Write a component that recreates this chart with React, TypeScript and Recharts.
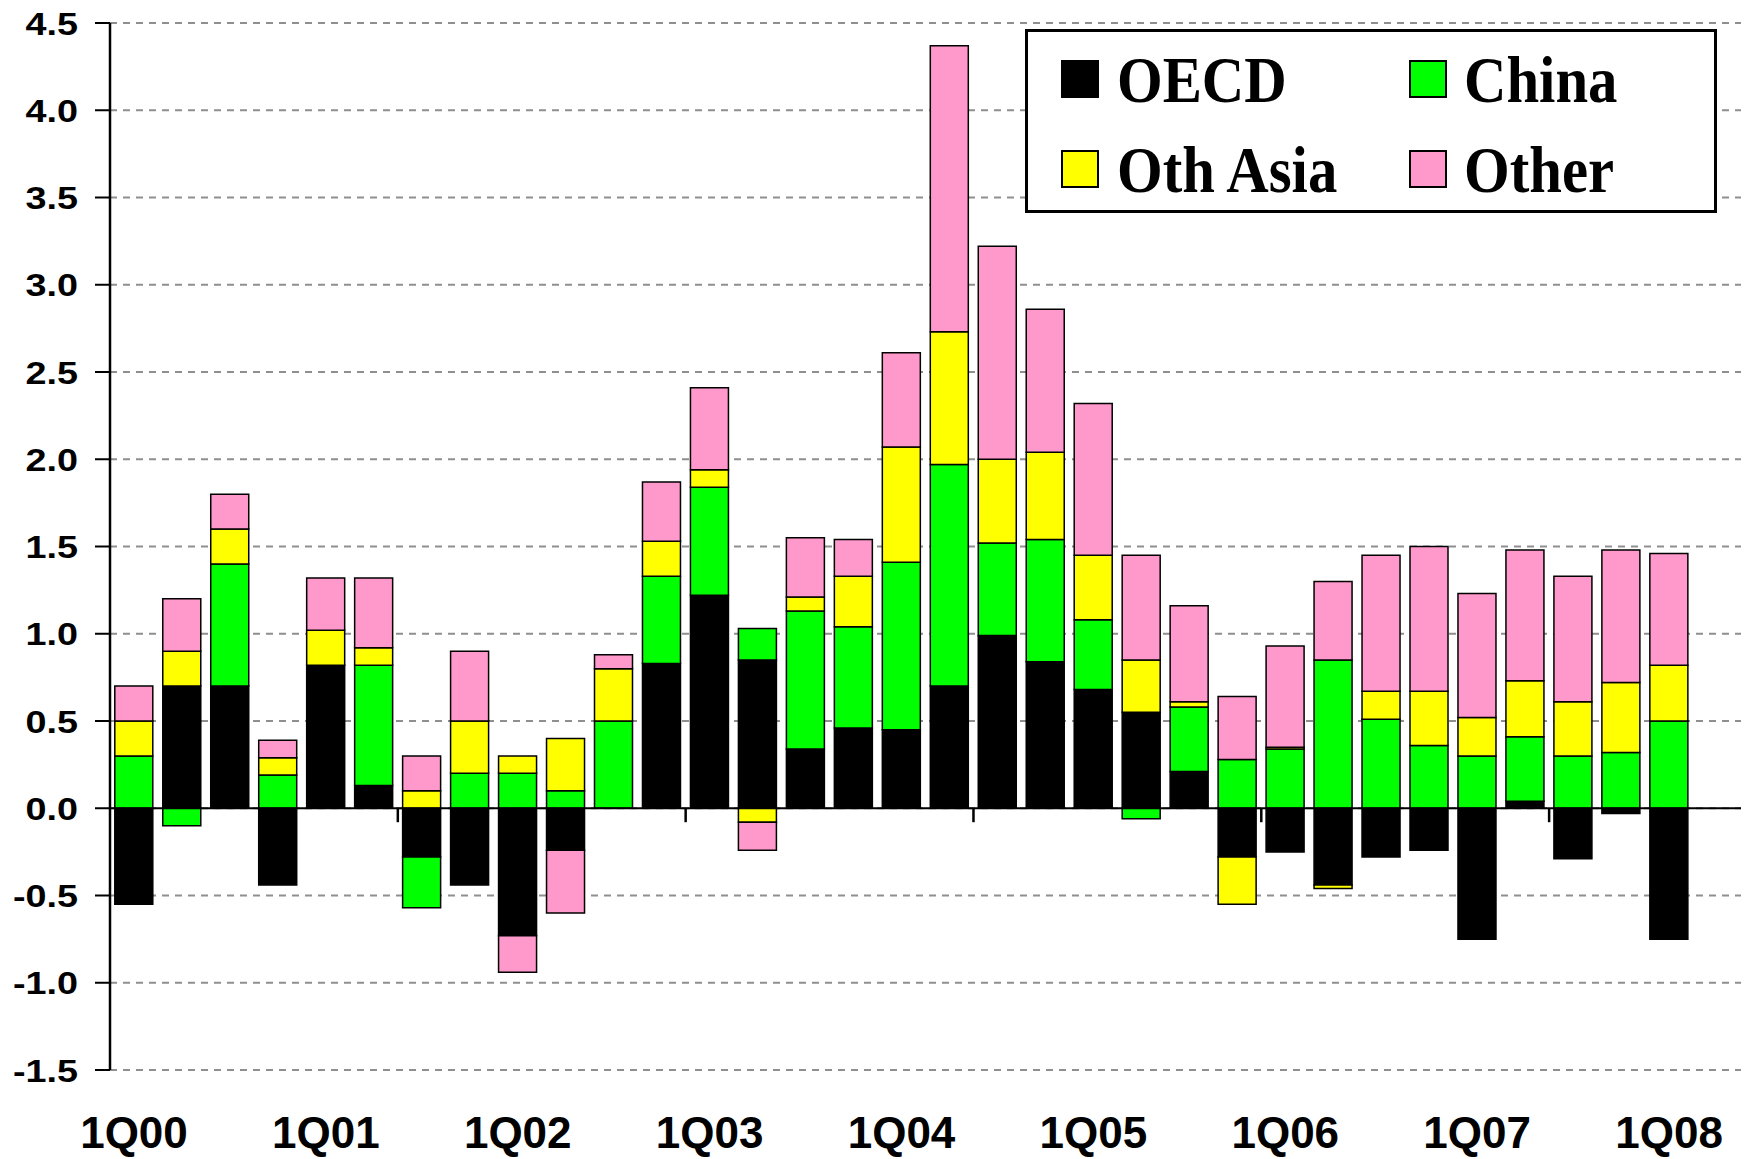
import React from 'react';
import { BarChart, Bar, XAxis, YAxis, CartesianGrid, ReferenceLine, Legend } from 'recharts';

// quarterly change, by region (last slot left empty like the original)
const quarters = [
  '1Q00', '2Q00', '3Q00', '4Q00', '1Q01', '2Q01', '3Q01', '4Q01',
  '1Q02', '2Q02', '3Q02', '4Q02', '1Q03', '2Q03', '3Q03', '4Q03',
  '1Q04', '2Q04', '3Q04', '4Q04', '1Q05', '2Q05', '3Q05', '4Q05',
  '1Q06', '2Q06', '3Q06', '4Q06', '1Q07', '2Q07', '3Q07', '4Q07',
  '1Q08', '2Q08',
];

const oecd = [
  -0.55, 0.7, 0.7, -0.44, 0.82, 0.13, -0.28, -0.44,
  -0.73, -0.24, 0, 0.83, 1.22, 0.85, 0.34, 0.46,
  0.45, 0.7, 0.99, 0.84, 0.68, 0.55, 0.21, -0.28,
  -0.25, -0.44, -0.28, -0.24, -0.75, 0.04, -0.29, -0.03,
  -0.75, null,
];

const china = [
  0.3, -0.1, 0.7, 0.19, 0, 0.69, -0.29, 0.2,
  0.2, 0.1, 0.5, 0.5, 0.62, 0.18, 0.79, 0.58,
  0.96, 1.27, 0.53, 0.7, 0.4, -0.06, 0.37, 0.28,
  0.34, 0.85, 0.51, 0.36, 0.3, 0.37, 0.3, 0.32,
  0.5, null,
];

const othAsia = [
  0.2, 0.2, 0.2, 0.1, 0.2, 0.1, 0.1, 0.3,
  0.1, 0.3, 0.3, 0.2, 0.1, -0.08, 0.08, 0.29,
  0.66, 0.76, 0.48, 0.5, 0.37, 0.3, 0.03, -0.27,
  0.01, -0.02, 0.16, 0.31, 0.22, 0.32, 0.31, 0.4,
  0.32, null,
];

const other = [
  0.2, 0.3, 0.2, 0.1, 0.3, 0.4, 0.2, 0.4,
  -0.21, -0.36, 0.08, 0.34, 0.47, -0.16, 0.34, 0.21,
  0.54, 1.64, 1.22, 0.82, 0.87, 0.6, 0.55, 0.36,
  0.58, 0.45, 0.78, 0.83, 0.71, 0.75, 0.72, 0.76,
  0.64, null,
];

const yTicks = [-1.5, -1, -0.5, 0, 0.5, 1, 1.5, 2, 2.5, 3, 3.5, 4, 4.5];
// small marks hanging under the zero line
const markQuarters = ['3Q01', '1Q03', '3Q04', '1Q06', '3Q07'];

const series = [
  { key: 'oecd', name: 'OECD', color: '#000000' },
  { key: 'china', name: 'China', color: '#00FF00' },
  { key: 'othAsia', name: 'Oth Asia', color: '#FFFF00' },
  { key: 'other', name: 'Other', color: '#FF99CC' },
];

const data = quarters.map((q, i) => ({
  quarter: q,
  oecd: oecd[i],
  china: china[i],
  othAsia: othAsia[i],
  other: other[i],
}));

const sans = "'Liberation Sans', Arial, sans-serif";
const serif = "'Liberation Serif', 'Times New Roman', serif";

function YTick({ x, y, payload }: any) {
  return (
    <g transform={`translate(${x},${y + 11.5})`}>
      <text
        transform="scale(1.18,1)"
        textAnchor="end"
        fontFamily={sans}
        fontWeight="bold"
        fontSize={32}
        fill="#000"
      >
        {Number(payload.value).toFixed(1)}
      </text>
    </g>
  );
}

function XTick({ x, y, payload }: any) {
  return (
    <text
      x={x}
      y={y + 78}
      textAnchor="middle"
      fontFamily={sans}
      fontWeight="bold"
      fontSize={44}
      fill="#000"
    >
      {payload.value}
    </text>
  );
}

function LegendBox() {
  const spots = [
    { sx: 37, tx: 92, row: 0 },
    { sx: 385, tx: 439, row: 0 },
    { sx: 37, tx: 92, row: 1 },
    { sx: 385, tx: 439, row: 1 },
  ];
  // grid order in the original: OECD, China / Oth Asia, Other
  return (
    <svg width={692} height={184} style={{ display: 'block' }}>
      <rect x={1.5} y={1.5} width={689} height={181} fill="#fff" stroke="#000" strokeWidth={3} />
      {series.map((s, i) => {
        const p = spots[i];
        const top = 32 + p.row * 90;
        return (
          <g key={s.key}>
            <rect x={p.sx} y={top} width={36} height={36} fill={s.color} stroke="#000" strokeWidth={2} />
            <g transform={`translate(${p.tx},${top + 41})`}>
              <text transform="scale(0.89,1)" fontFamily={serif} fontWeight="bold" fontSize={66} fill="#000">
                {s.name}
              </text>
            </g>
          </g>
        );
      })}
    </svg>
  );
}

export default function App() {
  return (
    <div style={{ position: 'absolute', left: 0, top: 0, background: '#fff' }}>
      <BarChart
        width={1746}
        height={1159}
        data={data}
        stackOffset="sign"
        barCategoryGap="10%"
        margin={{ top: 23, right: 5, left: 0, bottom: 0 }}
      >
        <CartesianGrid
          vertical={false}
          stroke="#8f8f8f"
          strokeWidth={2}
          strokeDasharray="7 6"
        />
        <XAxis
          dataKey="quarter"
          interval={3}
          height={89}
          axisLine={false}
          tickLine={false}
          tickSize={0}
          tickMargin={0}
          tick={<XTick />}
        />
        <YAxis
          type="number"
          domain={[-1.5, 4.5]}
          ticks={yTicks}
          interval={0}
          width={110}
          axisLine={{ stroke: '#000', strokeWidth: 2.5 }}
          tickLine={{ stroke: '#000', strokeWidth: 2 }}
          tickSize={15}
          tickMargin={17}
          tick={<YTick />}
        />
        {series.map((s) => (
          <Bar
            key={s.key}
            dataKey={s.key}
            name={s.name}
            stackId="a"
            fill={s.color}
            stroke="#000"
            strokeWidth={1.5}
            isAnimationActive={false}
          />
        ))}
        <ReferenceLine y={0} stroke="#000" strokeWidth={2} />
        {markQuarters.map((q) => (
          <ReferenceLine
            key={q}
            segment={[{ x: q, y: 0 }, { x: q, y: -0.08 }]}
            position="start"
            stroke="#000"
            strokeWidth={2.5}
          />
        ))}
        <Legend
          layout="horizontal"
          verticalAlign="middle"
          align="center"
          wrapperStyle={{ left: 1025, top: 29, width: 692, height: 184 }}
          content={() => <LegendBox />}
        />
      </BarChart>
    </div>
  );
}
